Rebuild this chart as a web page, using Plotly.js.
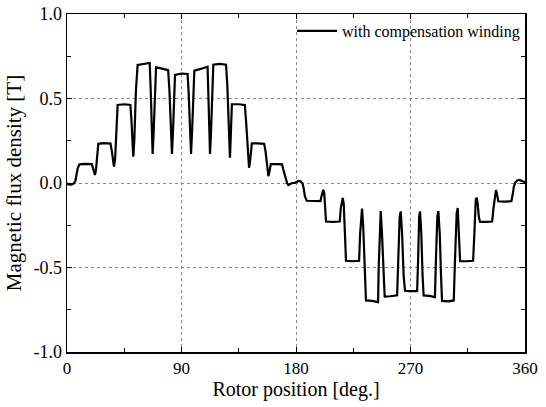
<!DOCTYPE html>
<html>
<head>
<meta charset="utf-8">
<script src="https://cdn.plot.ly/plotly-3.0.1.min.js"></script>
<style>
  html, body { margin: 0; padding: 0; background: #fff; }
  #chart { width: 546px; height: 407px; }
</style>
</head>
<body>
<div id="chart"></div>
<script>
// Rotor position [deg.]
const rotorAngle = [
  0, 1, 3, 5, 6.5, 7.5, 8.5, 9.8,
  14, 19.5,
  20.4, 21.3, 22, 22.8, 23.6, 24.6,
  29, 34.2,
  35.2, 36.2, 36.9, 37.8, 38.8, 39.8,
  45, 49.8,
  50.6, 51.4, 52.1, 52.9, 54.2, 55.5,
  60, 65,
  65.8, 66.7, 67.3, 68.1, 69.1, 70,
  74, 79.5,
  80.5, 81.6, 82.5, 83.3, 84.2, 84.9,
  90, 94.8,
  95.7, 96.7, 97.5, 98.3, 99.3, 100.1,
  105, 110.5,
  111.2, 111.9, 112.4, 113.2, 114.2, 115,
  120, 125,
  126, 127.2, 128.1, 128.6, 129.1, 129.6,
  135, 139.8,
  140.8, 142.2, 143.1, 143.9, 144.6, 145.3,
  150, 155,
  156, 157.4, 158.3, 159, 159.6, 160.2,
  165, 169,
  170, 171.5, 173, 174, 175.5, 177,
  179, 180.5, 182, 183.5, 185, 186, 187, 188.5,
  194, 199.2,
  200, 200.7, 201.4, 202.2, 202.9, 203.6,
  209, 214.4,
  215.2, 216, 216.7, 217.5, 218.4, 219.3,
  224, 229.6,
  230.4, 231.2, 231.9, 232.8, 233.9, 235,
  240, 244.5,
  245, 245.9, 246.6, 247.6, 248.7, 249.7,
  254, 259.5,
  260.4, 261.5, 262.3, 263.4, 264.6, 265.7,
  270, 275.2,
  276, 276.8, 277.5, 278.5, 279.5, 280.3,
  285, 289.2,
  290, 291.1, 291.9, 293, 294, 294.8,
  300, 304,
  305, 306.3, 307.1, 307.9, 308.5, 309,
  314, 319.2,
  320.2, 321.3, 322, 322.8, 323.7, 324.6,
  329, 334.2,
  335.2, 336.4, 337.2, 337.9, 338.5, 339,
  344, 349.3,
  350.3, 351.3, 352.5, 354, 355.5, 357, 358.5, 360
];

// Magnetic flux density [T]
const fluxDensity = [
  0.0, -0.008, -0.01, -0.005, 0.01, 0.05, 0.09, 0.11,
  0.113, 0.112,
  0.09, 0.06, 0.047, 0.08, 0.17, 0.232,
  0.236, 0.233,
  0.19, 0.12, 0.097, 0.14, 0.32, 0.462,
  0.466, 0.462,
  0.38, 0.22, 0.156, 0.25, 0.55, 0.698,
  0.703, 0.71,
  0.55, 0.28, 0.172, 0.3, 0.58, 0.684,
  0.678, 0.668,
  0.55, 0.28, 0.172, 0.3, 0.55, 0.64,
  0.648, 0.645,
  0.52, 0.26, 0.172, 0.3, 0.56, 0.665,
  0.675, 0.688,
  0.5, 0.25, 0.172, 0.3, 0.58, 0.70,
  0.705, 0.70,
  0.58, 0.28, 0.15, 0.25, 0.42, 0.466,
  0.466, 0.462,
  0.36, 0.14, 0.09, 0.13, 0.2, 0.235,
  0.235, 0.232,
  0.19, 0.07, 0.04, 0.06, 0.1, 0.112,
  0.112, 0.11,
  0.08, 0.03, 0.0, -0.012, -0.008, 0.0,
  0.0, 0.008, 0.012, 0.01, 0.0, -0.03, -0.08, -0.105,
  -0.108, -0.107,
  -0.08, -0.05, -0.04, -0.06, -0.15, -0.228,
  -0.23, -0.228,
  -0.15, -0.1, -0.088, -0.12, -0.3, -0.46,
  -0.463, -0.46,
  -0.3, -0.17, -0.152, -0.25, -0.5, -0.695,
  -0.698, -0.705,
  -0.5, -0.22, -0.166, -0.3, -0.55, -0.672,
  -0.67, -0.665,
  -0.45, -0.2, -0.168, -0.3, -0.55, -0.638,
  -0.64, -0.64,
  -0.45, -0.2, -0.168, -0.3, -0.55, -0.665,
  -0.668, -0.675,
  -0.45, -0.2, -0.166, -0.3, -0.55, -0.698,
  -0.70, -0.695,
  -0.45, -0.18, -0.148, -0.25, -0.4, -0.463,
  -0.463, -0.46,
  -0.3, -0.1, -0.086, -0.12, -0.2, -0.23,
  -0.23, -0.228,
  -0.15, -0.06, -0.041, -0.06, -0.09, -0.108,
  -0.11, -0.108,
  -0.07, -0.02, 0.005, 0.015, 0.018, 0.012, 0.008, 0.005
];

const xTickVals = [0, 90, 180, 270, 360];
const xTickText = ['0', '90', '180', '270', '360'];
const yTickVals = [-1.0, -0.5, 0.0, 0.5, 1.0];
const yTickText = ['-1.0', '-0.5', '0.0', '0.5', '1.0'];

const serif = 'Liberation Serif, Times New Roman, serif';

const trace = {
  x: rotorAngle,
  y: fluxDensity,
  type: 'scatter',
  mode: 'lines',
  name: 'with compensation winding',
  line: { color: '#000', width: 2.2 }
};

const axisCommon = {
  showline: true,
  linecolor: '#000',
  linewidth: 1.5,
  mirror: 'ticks',
  ticks: 'inside',
  ticklen: 5,
  tickwidth: 1,
  tickcolor: '#000',
  showgrid: true,
  gridcolor: '#888',
  griddash: 'dot',
  gridwidth: 1,
  zeroline: false
};

const layout = {
  width: 546,
  height: 407,
  margin: { l: 67, r: 21, t: 14, b: 55 },
  paper_bgcolor: '#fff',
  plot_bgcolor: '#fff',
  font: { family: serif, color: '#000' },
  showlegend: true,
  legend: {
    x: 1, xanchor: 'right', y: 1, yanchor: 'top',
    bgcolor: 'rgba(0,0,0,0)', borderwidth: 0,
    font: { family: serif, size: 16, color: '#000' },
    itemwidth: 40
  },
  xaxis: Object.assign({}, axisCommon, {
    range: [0, 360],
    tickmode: 'array',
    tickvals: xTickVals,
    ticktext: xTickText,
    tickfont: { family: serif, size: 17, color: '#000' },
    minor: { dtick: 45, tick0: 0, ticks: 'inside', ticklen: 4, tickcolor: '#000', showgrid: false },
    title: { text: 'Rotor position [deg.]', font: { family: serif, size: 20, color: '#000' }, standoff: 4 }
  }),
  yaxis: Object.assign({}, axisCommon, {
    range: [-1.0, 1.0],
    tickmode: 'array',
    tickvals: yTickVals,
    ticktext: yTickText,
    tickfont: { family: serif, size: 18, color: '#000' },
    minor: { dtick: 0.25, tick0: 0, ticks: 'inside', ticklen: 4, tickcolor: '#000', showgrid: false },
    title: { text: 'Magnetic flux density [T]', font: { family: serif, size: 21, color: '#000' }, standoff: 6 }
  })
};

Plotly.newPlot('chart', [trace], layout, { displayModeBar: false, staticPlot: true });
</script>
</body>
</html>
